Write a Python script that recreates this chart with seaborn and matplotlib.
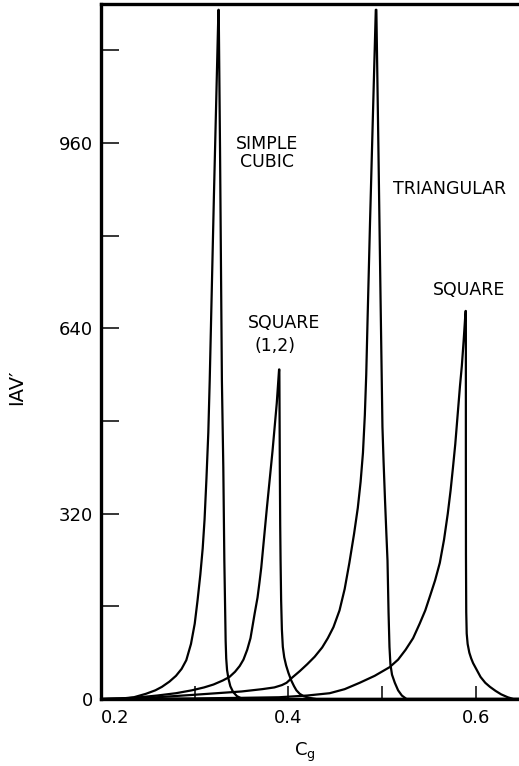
import matplotlib
matplotlib.use("Agg")
import matplotlib.pyplot as plt
import seaborn as sns
import pandas as pd

# ---- data ----
sc_cg = [0.200, 0.220, 0.235, 0.248, 0.258, 0.265, 0.273, 0.280, 0.286, 0.291, 0.296, 0.300, 0.303,
         0.306, 0.3085, 0.3105, 0.3125, 0.3145, 0.3160, 0.3205, 0.3253,
         0.3256, 0.3270, 0.3290, 0.3305, 0.3316, 0.3325, 0.3330, 0.3336, 0.3345, 0.3360, 0.3380,
         0.3410, 0.3450, 0.3510, 0.646]
sc_val = [0, 0.5, 3, 9, 15, 21, 30, 40, 52, 67, 95, 130, 170,
          215, 260, 310, 380, 460, 550, 870, 1190,
          1190, 950, 550, 400, 239, 150, 100, 70, 50, 35, 22,
          12, 5, 0, 0]

s12_cg = [0.200, 0.225, 0.241, 0.260, 0.280, 0.297, 0.310, 0.320, 0.330, 0.337, 0.343, 0.348, 0.352,
          0.356, 0.3595, 0.3615, 0.364, 0.367, 0.369, 0.371, 0.377, 0.383, 0.3875, 0.3900,
          0.3903, 0.3908, 0.3912, 0.3916, 0.3922, 0.3930, 0.3940, 0.3955, 0.3975, 0.4000, 0.4030,
          0.4060, 0.4085, 0.4120, 0.4160, 0.4220, 0.4300, 0.646]
s12_val = [0, 1, 3, 6, 10, 15, 20, 25, 32, 38, 47, 57, 68,
           85, 105, 124, 148, 175, 200, 227, 330, 428, 510, 569,
           569, 400, 300, 239, 170, 120, 90, 72, 58, 45, 32,
           22, 15, 9, 5, 2, 0, 0]

tri_cg = [0.200, 0.250, 0.297, 0.350, 0.372, 0.385, 0.393, 0.398, 0.404, 0.412, 0.420, 0.428, 0.436, 0.442,
          0.448, 0.4545, 0.460, 0.465, 0.470, 0.474, 0.477, 0.4795, 0.4815, 0.4830, 0.4845, 0.4870,
          0.4900, 0.4932,
          0.4938, 0.4960, 0.4982, 0.5003, 0.5015, 0.5030, 0.5045, 0.5057, 0.5068, 0.5078, 0.5088,
          0.5105, 0.5135, 0.5170, 0.5210, 0.5260, 0.646]
tri_val = [0, 2, 7, 13, 17, 20, 24, 28, 37, 48, 60, 73, 89, 105,
           124, 153, 190, 235, 285, 330, 375, 425, 490, 560, 660, 820,
           1000, 1190,
           1190, 950, 700, 470, 410, 345, 285, 239, 150, 90, 60,
           42, 28, 15, 6, 0, 0]

sq_cg = [0.200, 0.300, 0.350, 0.390, 0.420, 0.444, 0.460, 0.476, 0.492, 0.508, 0.517, 0.525, 0.533,
         0.540, 0.546, 0.5515, 0.5565, 0.5615, 0.5660, 0.5700, 0.5730, 0.5755, 0.5780, 0.5805, 0.5830,
         0.5850, 0.5870, 0.5890,
         0.5893, 0.5893, 0.5894, 0.5897, 0.5902, 0.5912, 0.5930, 0.5950, 0.5970, 0.6010, 0.6050,
         0.6100, 0.6150, 0.6210, 0.6270, 0.6340, 0.6400, 0.646]
sq_val = [0, 1, 2, 3, 6, 10, 17, 28, 40, 55, 68, 85, 105,
          130, 153, 180, 205, 235, 275, 320, 360, 399, 440, 490, 540,
          575, 620, 670,
          670, 420, 250, 150, 113, 95, 80, 70, 62, 50, 38,
          28, 21, 14, 8, 3, 0, 0]

curves = {"SIMPLE CUBIC": (sc_cg, sc_val), "SQUARE (1,2)": (s12_cg, s12_val),
          "TRIANGULAR": (tri_cg, tri_val), "SQUARE": (sq_cg, sq_val)}

y_major = [0, 320, 640, 960]
y_minor = [160, 480, 800, 1120]
x_major = [0.2, 0.4, 0.6]
x_minor = [0.3, 0.5]
x_labels = ["0.2", "0.4", "0.6"]

sns.set_style("white")
plt.rcParams["font.family"] = ["DejaVu Sans"]
for k in ["text.color", "axes.labelcolor", "xtick.color", "ytick.color"]:
    plt.rcParams[k] = "black"

fig = plt.figure(figsize=(5.19, 7.66), dpi=100)
ax = fig.add_axes([101 / 519, (766 - 699) / 766, (519 - 101) / 519, (699 - 4) / 766])

for name, (xs, ys) in curves.items():
    df = pd.DataFrame({"cg": xs, "val": ys})
    sns.lineplot(data=df, x="cg", y="val", ax=ax, color="black", linewidth=1.6,
                 estimator=None, sort=False, legend=False)
for ln in ax.lines:
    ln.set_solid_joinstyle("round")

ax.set_xlim(0.2, 0.646)
ax.set_ylim(0, 1200)

for s in ["top", "left", "bottom"]:
    ax.spines[s].set_visible(True)
    ax.spines[s].set_linewidth(2.4)
    ax.spines[s].set_color("black")
ax.spines["right"].set_visible(False)

ax.set_yticks(y_major)
ax.set_yticks(y_minor, minor=True)
ax.set_xticks(x_major)
ax.set_xticks(x_minor, minor=True)
ax.set_xticklabels(x_labels)
ax.tick_params(axis="y", which="both", direction="in", length=13, width=1.1, labelsize=13,
               pad=6, left=True, right=False, color="black")
ax.tick_params(axis="x", which="both", direction="in", length=9.5, width=1.1, labelsize=13,
               pad=7, bottom=True, top=False, color="black")
ax.get_xticklabels()[0].set_horizontalalignment("left")

ax.set_xlabel("C$_\\mathregular{g}$", fontsize=13)
ax.xaxis.set_label_coords((305 - 101) / 418, (699 - 741) / 695)
ax.set_ylabel("IAV\u2032", fontsize=14)
ax.yaxis.set_label_coords((26 - 101) / 418, (699 - 387) / 695)

fs = 12.5
ax.text(0.3775, 943, "SIMPLE\nCUBIC", ha="center", va="center", fontsize=fs, linespacing=1.0)
ax.text(0.395, 650, "SQUARE", ha="center", va="center", fontsize=fs)
ax.text(0.386, 609, "(1,2)", ha="center", va="center", fontsize=fs)
ax.text(0.572, 880, "TRIANGULAR", ha="center", va="center", fontsize=fs)
ax.text(0.593, 706, "SQUARE", ha="center", va="center", fontsize=fs)

fig.savefig("out.png", dpi=100)
